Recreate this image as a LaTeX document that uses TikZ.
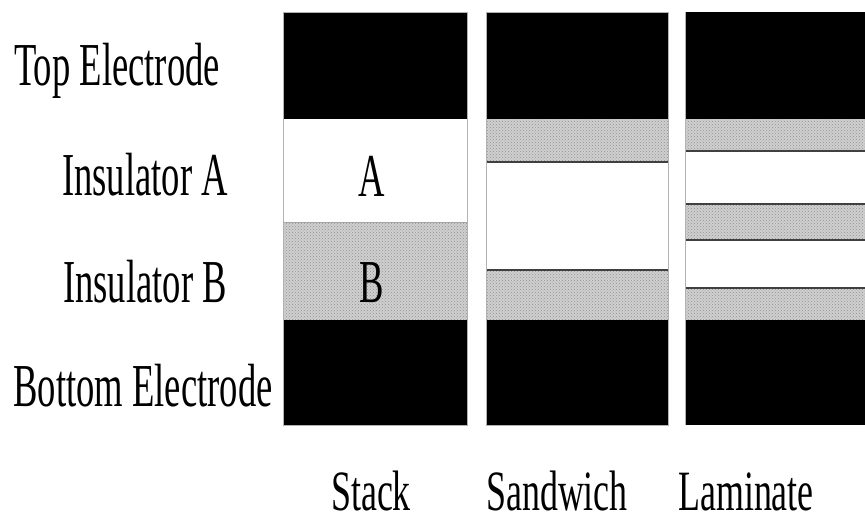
\documentclass[tikz,border=0pt]{standalone}
\usepackage{fontspec}
\setmainfont{Liberation Serif}
\usetikzlibrary{patterns}
\newcommand{\narrow}[1]{\scalebox{0.6}[1]{#1}}
\tikzset{
  lab/.style={inner sep=0pt, anchor=base, font=\fontsize{61}{61}\selectfont},
  sublab/.style={lab, font=\fontsize{57}{57}\selectfont},
  blk/.style={fill=black},
  wht/.style={fill=white},
  gry/.style={fill=gray!38},
  dots/.style={pattern=crosshatch dots, pattern color=gray!85},
  edge/.style={draw=black!75, line width=1.6pt},
  frame/.style={draw=gray!60, line width=0.8pt}
}
\begin{document}
\begin{tikzpicture}[x=1pt,y=-1pt]
\useasboundingbox (0,0) rectangle (865,525);
% ---------- Stack ----------
\fill[blk] (283,12) rectangle (467,119);
\fill[wht] (283,119) rectangle (467,222);
\fill[gry] (283,222) rectangle (467,320);
\fill[dots] (283,222) rectangle (467,320);
\fill[blk] (283,320) rectangle (467,425);
\draw[frame] (283,12) rectangle (467,425);
\draw[draw=gray!70, line width=0.8pt] (283,222) -- (467,222);
\node[lab] (A) at (372,196) {\narrow{A}};
\node[lab] (B) at (372,302) {\narrow{B}};
% ---------- Sandwich ----------
\fill[blk] (486,12) rectangle (668,119);
\fill[gry] (486,119) rectangle (668,162);
\fill[dots] (486,119) rectangle (668,162);
\fill[wht] (486,162) rectangle (668,270);
\fill[gry] (486,270) rectangle (668,320);
\fill[dots] (486,270) rectangle (668,320);
\fill[blk] (486,320) rectangle (668,425);
\draw[edge] (486,162) -- (668,162);
\draw[edge] (486,270) -- (668,270);
\draw[frame] (486,12) rectangle (668,425);
% ---------- Laminate ----------
\fill[blk] (685,12) rectangle (866,119);
\fill[gry] (685,119) rectangle (866,151);
\fill[dots] (685,119) rectangle (866,151);
\fill[wht] (685,151) rectangle (866,204);
\fill[gry] (685,204) rectangle (866,240);
\fill[dots] (685,204) rectangle (866,240);
\fill[wht] (685,240) rectangle (866,288);
\fill[gry] (685,288) rectangle (866,320);
\fill[dots] (685,288) rectangle (866,320);
\fill[blk] (685,320) rectangle (866,425);
\draw[edge] (685,151) -- (866,151);
\draw[edge] (685,204) -- (866,204);
\draw[edge] (685,240) -- (866,240);
\draw[edge] (685,288) -- (866,288);
\draw[frame] (685,12) -- (685,425);
% ---------- Left labels ----------
\node[lab] (top) at (117,85) {\narrow{Top Electrode}};
\node[lab] (insa) at (145,195) {\narrow{Insulator A}};
\node[lab] (insb) at (145,302) {\narrow{Insulator B}};
\node[lab] (bot) at (143,406) {\narrow{Bottom Electrode}};
% ---------- Bottom labels ----------
\node[sublab] (stack) at (371,510) {\scalebox{0.63}[1]{Stack}};
\node[sublab] (sand) at (557,510) {\scalebox{0.63}[1]{Sandwich}};
\node[sublab] (lam) at (746,510) {\scalebox{0.63}[1]{Laminate}};
\end{tikzpicture}
\end{document}
